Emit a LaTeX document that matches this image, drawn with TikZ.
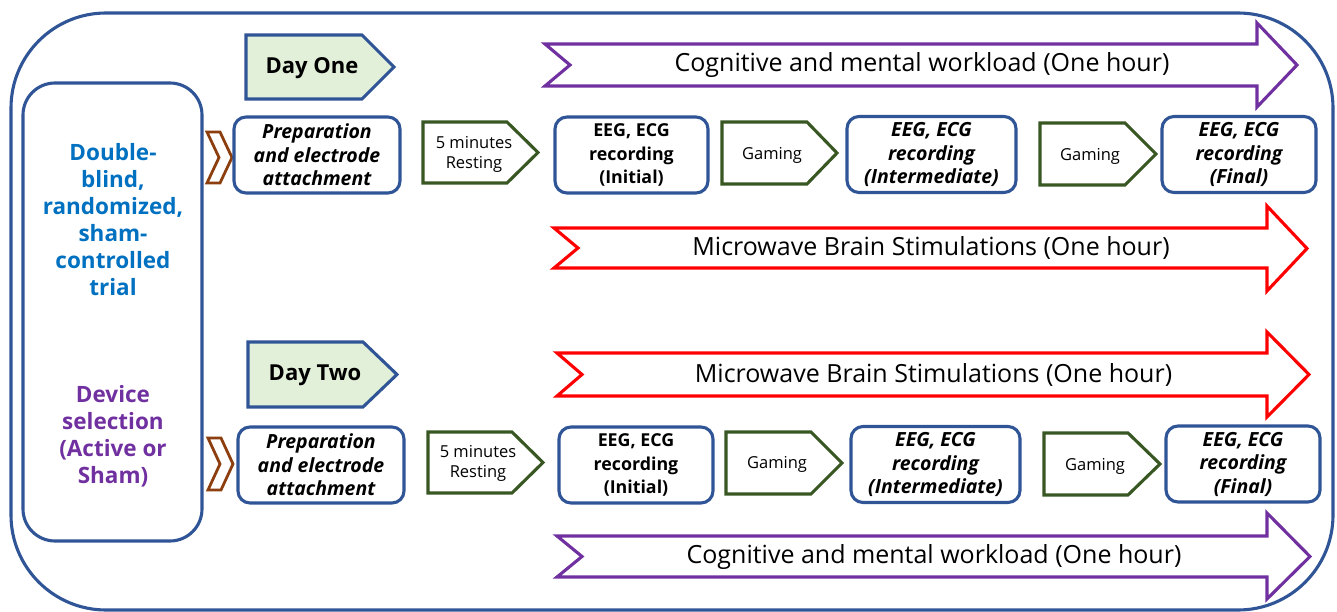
\documentclass[tikz,border=0pt]{standalone}
\usepackage{fontspec}
\setmainfont{Open Sans}
\definecolor{frameblue}{RGB}{47,85,151}
\definecolor{txtblue}{RGB}{0,112,192}
\definecolor{purp}{RGB}{112,48,160}
\definecolor{grn}{RGB}{56,87,35}
\definecolor{lgrn}{RGB}{226,240,217}
\definecolor{brwn}{RGB}{140,62,14}
\begin{document}
\begin{tikzpicture}[x=1pt,y=-1pt,line join=miter,
  bline/.style={draw=frameblue,line width=3.1pt},
  rbox/.style={bline,rounded corners=12pt,minimum height=76pt,inner sep=0pt,align=center,fill=white},
  pent/.style={draw=grn,line width=3.1pt,fill=white},
  daypent/.style={draw=frameblue,line width=3.1pt,fill=lgrn},
  bigpurp/.style={draw=purp,line width=3.1pt,fill=white},
  bigred/.style={draw=red,line width=3.1pt,fill=white},
  chev/.style={draw=brwn,line width=2.8pt,fill=white},
  boxfont/.style={font=\bfseries\fontsize{17.8}{23.5}\selectfont},
  boxifont/.style={font=\bfseries\itshape\fontsize{19.5}{23.5}\selectfont},
  smallfont/.style={font=\fontsize{16.5}{20}\selectfont,align=center,inner sep=0pt},
  bigfont/.style={font=\fontsize{25}{30}\selectfont,inner sep=0pt},
  leftfont/.style={font=\bfseries\fontsize{22.5}{27}\selectfont,align=center,inner sep=0pt},
  dayfont/.style={font=\bfseries\fontsize{22}{27}\selectfont,inner sep=0pt}]
\useasboundingbox (0,0) rectangle (1337,612);
% outer frame
\draw[bline,rounded corners=95pt] (11,13) rectangle (1333,610);
% left box
\node[bline,rounded corners=32pt,minimum width=179pt,minimum height=458pt] (sel) at (112.5,312) {};
\node[leftfont,text=txtblue] (trial) at (113,220) {Double-\\blind,\\randomized,\\sham-\\controlled\\trial};
\node[leftfont,text=purp] (dev) at (113,436.5) {Device\\selection\\(Active or\\Sham)};
% chevrons
\draw[chev] (207,132) -- (220,132) -- (232,157.5) -- (220,183) -- (207,183) -- (219,157.5) -- cycle;
\draw[chev] (208,438) -- (221,438) -- (233,464) -- (221,490) -- (208,490) -- (220,464) -- cycle;
% day pentagons
\draw[daypent] (246,35) -- (362,35) -- (394,67) -- (362,99) -- (246,99) -- cycle;
\node[dayfont] (day1) at (312,68) {Day One};
\draw[daypent] (248,342) -- (363,342) -- (397,374.5) -- (363,407) -- (248,407) -- cycle;
\node[dayfont] (day2) at (315,375) {Day Two};
% big arrows
\draw[bigpurp] (545,44) -- (1257,44) -- (1257,23) -- (1297,65) -- (1257,107) -- (1257,86) -- (545,86) -- (570,65) -- cycle;
\node[bigfont] (cog1) at (922,65) {Cognitive and mental workload (One hour)};
\draw[bigred] (554,228) -- (1267,228) -- (1267,206) -- (1307,248.5) -- (1267,291) -- (1267,268) -- (554,268) -- (578,248) -- cycle;
\node[bigfont] (mw1) at (931,248) {Microwave Brain Stimulations (One hour)};
\draw[bigred] (557,353) -- (1267,353) -- (1267,332) -- (1309,374.5) -- (1267,417) -- (1267,396) -- (557,396) -- (582,374.5) -- cycle;
\node[bigfont] (mw2) at (933.5,375) {Microwave Brain Stimulations (One hour)};
\draw[bigpurp] (557,536) -- (1267,536) -- (1267,513) -- (1310,556.5) -- (1267,599) -- (1267,577) -- (557,577) -- (582,556.5) -- cycle;
\node[bigfont] (cog2) at (934,557) {Cognitive and mental workload (One hour)};
% row 1
\node[rbox,boxifont,minimum width=166pt] (prep1) at (317,155) {Preparation\\and electrode\\attachment};
\draw[pent] (423,122) -- (507,122) -- (538,152.5) -- (507,183) -- (423,183) -- cycle;
\node[smallfont] (rest1) at (474,154) {5 minutes\\Resting};
\node[rbox,boxfont,minimum width=153pt] (init1) at (631.5,155) {EEG, ECG\\recording\\(Initial)};
\draw[pent] (722,122) -- (807,122) -- (837,153) -- (807,184) -- (722,184) -- cycle;
\node[smallfont] (gam1) at (772,155) {Gaming};
\node[rbox,boxifont,minimum width=169pt] (inter1) at (931.5,154.5) {EEG, ECG\\recording\\(Intermediate)};
\draw[pent] (1040,123) -- (1125,123) -- (1156,154) -- (1125,185) -- (1040,185) -- cycle;
\node[smallfont] (gam3) at (1090,156) {Gaming};
\node[rbox,boxifont,minimum width=154pt] (final1) at (1239,154.5) {EEG, ECG\\recording\\(Final)};
% row 2
\node[rbox,boxifont,minimum width=166pt] (prep2) at (321,465) {Preparation\\and electrode\\attachment};
\draw[pent] (428,432) -- (512,432) -- (543,462.5) -- (512,493) -- (428,493) -- cycle;
\node[smallfont] (rest2) at (478,463) {5 minutes\\Resting};
\node[rbox,boxfont,minimum width=154pt] (init2) at (636,465) {EEG, ECG\\recording\\(Initial)};
\draw[pent] (726,432) -- (811,432) -- (842,463) -- (811,494) -- (726,494) -- cycle;
\node[smallfont] (gam2) at (777,464) {Gaming};
\node[rbox,boxifont,minimum width=169pt] (inter2) at (935.5,464.5) {EEG, ECG\\recording\\(Intermediate)};
\draw[pent] (1044,433) -- (1128,433) -- (1160,464) -- (1128,495) -- (1044,495) -- cycle;
\node[smallfont] (gam4) at (1095,466) {Gaming};
\node[rbox,boxifont,minimum width=154pt] (final2) at (1243,464) {EEG, ECG\\recording\\(Final)};
\end{tikzpicture}
\end{document}
